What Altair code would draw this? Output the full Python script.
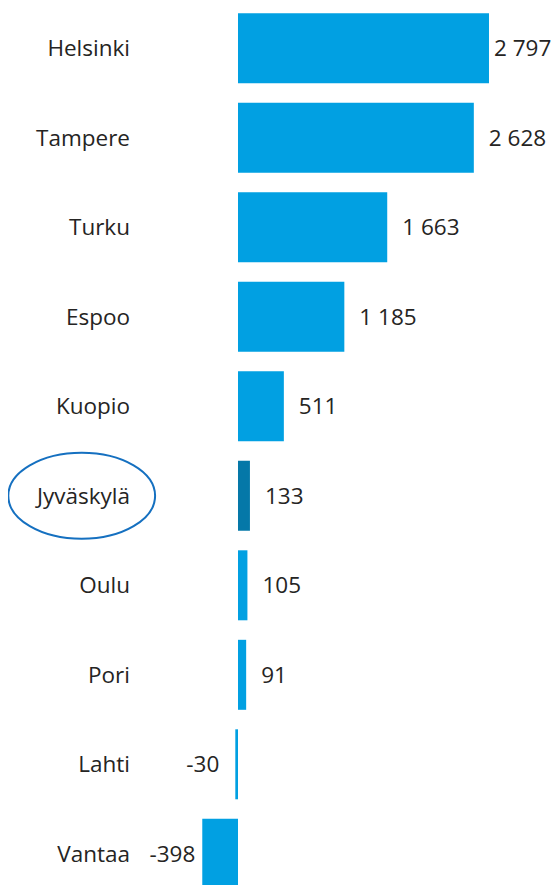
import altair as alt
import pandas as pd

cities = ["Helsinki", "Tampere", "Turku", "Espoo", "Kuopio", "Jyväskylä", "Oulu", "Pori", "Lahti", "Vantaa"]
values = [2797, 2628, 1663, 1185, 511, 133, 105, 91, -30, -398]
highlight = "Jyväskylä"

df = pd.DataFrame({"city": cities, "value": values})
df["label"] = [f"{v:,}".replace(",", " ") for v in values]
df["hl"] = [c == highlight for c in cities]

FONT = "Open Sans"
FS = 22.5
TXT = "#252423"

base = alt.Chart(df)
y = alt.Y("city:N", sort=cities, axis=None,
          scale=alt.Scale(domain=cities, range=[-4.45, 890.55], paddingInner=0.218, paddingOuter=0.109))
xs = alt.Scale(domain=[-2563, 3488], nice=False, zero=False)

bars = base.mark_bar().encode(
    x=alt.X("value:Q", scale=xs, axis=None),
    x2=alt.datum(0),
    y=y,
    color=alt.condition("datum.hl", alt.value("#0578a8"), alt.value("#01a0e2")),
)

def vlabels(filt, align, dx):
    return base.transform_filter(filt).mark_text(
        align=align, baseline="middle", dx=dx, dy=1, font=FONT, fontSize=FS, color=TXT
    ).encode(x=alt.X("value:Q", scale=xs, axis=None), y=y, text="label:N")

pos = vlabels("datum.value > 0 && datum.value < 2700", "left", 15)
top = vlabels("datum.value >= 2700", "left", 5)
neg = vlabels("datum.value < 0 && datum.value > -300", "right", -16)
neg2 = vlabels("datum.value <= -300", "right", -7)

cats = base.mark_text(align="right", baseline="middle", dy=1, font=FONT, fontSize=FS, color=TXT).encode(
    x=alt.value(122), y=y, text="city:N"
)

ellipse = base.transform_filter("datum.hl").mark_point(
    shape="M-1,0A1,0.586,0,1,0,1,0A1,0.586,0,1,0,-1,0Z",
    size=21550, filled=False, stroke="#1570c0", strokeWidth=2, opacity=1,
).encode(x=alt.value(73.7), y=y)

chart = alt.layer(bars, pos, top, neg, neg2, cats, ellipse).properties(
    width=543, height=877, padding=0, autosize=alt.AutoSizeParams(type="none")
).configure_view(stroke=None)

chart.save("out.html", embed_options={"renderer": "svg", "actions": False})
